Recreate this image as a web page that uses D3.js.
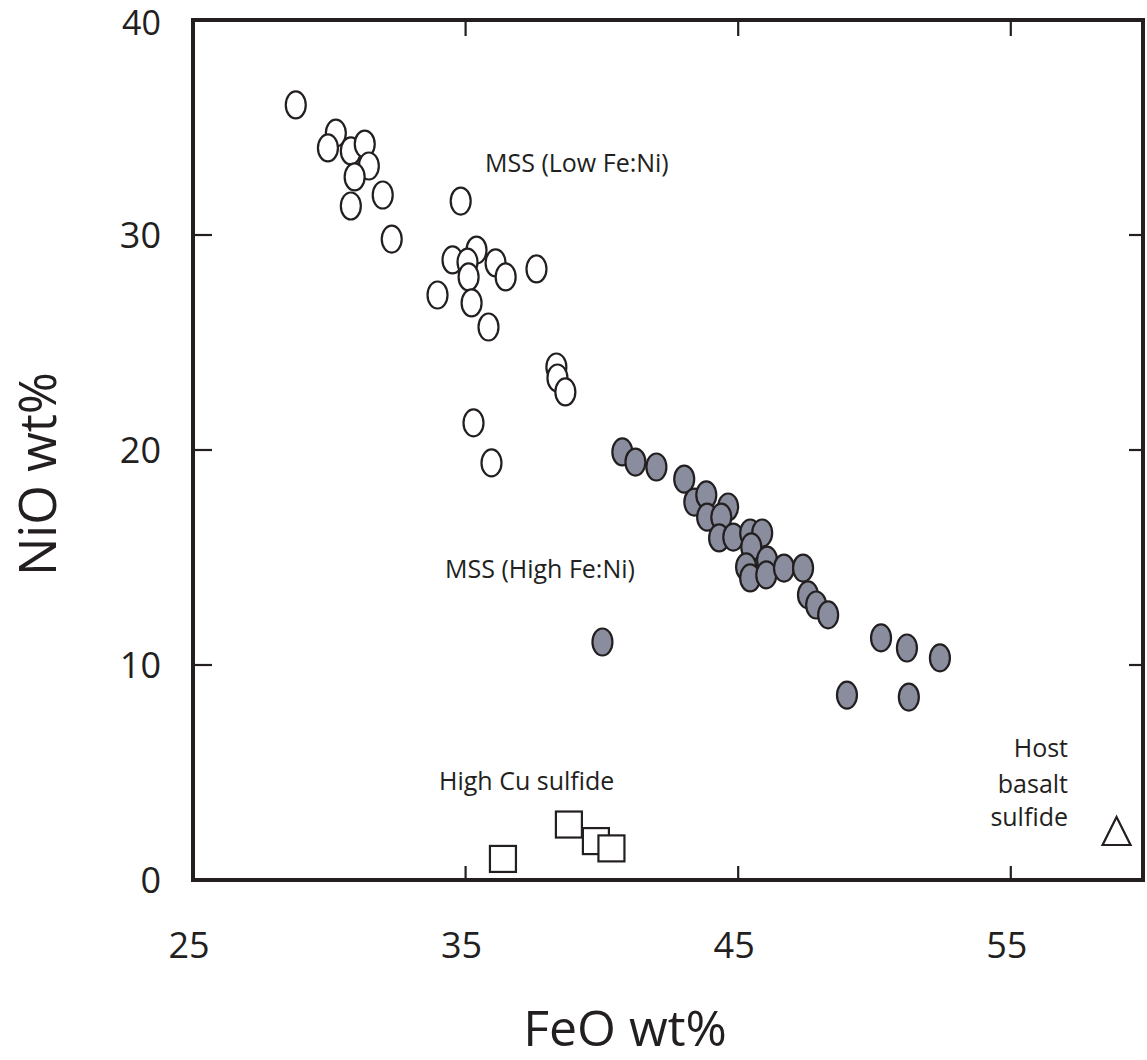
<!DOCTYPE html>
<html lang="en">
<head>
<meta charset="utf-8">
<title>NiO vs FeO</title>
<style>
  body { margin: 0; background: #fff; }
  text { font-family: "Open Sans", "Noto Sans", sans-serif; fill: #231f20; }
</style>
</head>
<body>
<svg width="1147" height="1060"></svg>
<script src="https://cdn.jsdelivr.net/npm/d3@7"></script>
<script>
// MSS (Low Fe:Ni) - open circles, [FeO, NiO]
const mssLow = [
  [28.77, 36.05], [30.24, 34.74], [29.95, 34.05], [30.79, 33.91], [31.30, 34.23],
  [31.45, 33.21], [30.93, 32.70], [30.79, 31.35], [31.96, 31.86], [32.29, 29.81],
  [34.82, 31.58], [34.52, 28.84], [35.40, 29.30], [35.07, 28.74], [35.11, 28.05],
  [36.10, 28.70], [36.47, 28.05], [37.60, 28.42], [33.97, 27.21], [35.22, 26.84],
  [35.84, 25.72], [38.33, 23.86], [38.37, 23.35], [38.66, 22.70], [35.29, 21.26],
  [35.95, 19.40]
];
// MSS (High Fe:Ni) - filled circles
const mssHigh = [
  [40.75, 19.91], [41.23, 19.44], [42.00, 19.21], [43.02, 18.65], [43.39, 17.58],
  [43.83, 17.91], [44.63, 17.35], [43.86, 16.88], [44.38, 16.88], [44.30, 15.91],
  [44.82, 15.95], [45.44, 16.14], [45.88, 16.14], [45.48, 15.49], [45.29, 14.56],
  [45.44, 14.05], [46.06, 14.88], [46.03, 14.19], [46.68, 14.51], [47.38, 14.51],
  [47.56, 13.26], [47.86, 12.79], [48.30, 12.33], [40.02, 11.07], [50.24, 11.26],
  [51.19, 10.79], [52.40, 10.33], [48.99, 8.60], [51.26, 8.51]
];
// High Cu sulfide - squares
const highCu = [[36.37, 0.98], [38.79, 2.58], [39.78, 1.81], [40.35, 1.47]];
// Host basalt sulfide - triangle
const hostBasalt = [[58.88, 2.28]];

const xTicks = [25, 35, 45, 55];
const yTicks = [0, 10, 20, 30, 40];

const svg = d3.select("svg");
const x = d3.scaleLinear().domain([25, 59.85]).range([193, 1143]);
const y = d3.scaleLinear().domain([0, 40]).range([880, 20]);

// inner ticks on all four sides
const g = svg.append("g").attr("stroke", "#231f20").attr("stroke-width", 2.2);
xTicks.filter(d => d > 25).forEach(d => {
  g.append("line").attr("x1", x(d)).attr("x2", x(d)).attr("y1", y(0)).attr("y2", y(0) - 14);
  g.append("line").attr("x1", x(d)).attr("x2", x(d)).attr("y1", y(40)).attr("y2", y(40) + 16);
});
yTicks.filter(d => d > 0 && d < 40).forEach(d => {
  g.append("line").attr("x1", x(25)).attr("x2", x(25) + 19).attr("y1", y(d)).attr("y2", y(d));
  g.append("line").attr("x1", x.range()[1]).attr("x2", x.range()[1] - 14).attr("y1", y(d)).attr("y2", y(d));
});

// frame
svg.append("rect")
  .attr("x", x.range()[0]).attr("y", y.range()[1])
  .attr("width", x.range()[1] - x.range()[0])
  .attr("height", y.range()[0] - y.range()[1])
  .attr("fill", "none").attr("stroke", "#231f20").attr("stroke-width", 4);

// tick labels
svg.selectAll(".xl").data(xTicks).enter().append("text")
  .attr("x", d => x(d) - 4).attr("y", 958)
  .attr("text-anchor", "middle").style("font-size", "36px")
  .text(d => d);
svg.selectAll(".yl").data(yTicks).enter().append("text")
  .attr("x", 161).attr("y", d => y(d) + 13)
  .attr("dy", d => d === 40 ? 2 : 0)
  .attr("text-anchor", "end").style("font-size", d => d === 40 ? "34px" : "36px")
  .text(d => d);

// axis titles
svg.append("text").attr("x", 625).attr("y", 1046)
  .attr("text-anchor", "middle").style("font-size", "50px")
  .text("FeO wt%");
svg.append("text")
  .attr("transform", "translate(56,474) rotate(-90)")
  .attr("text-anchor", "middle").style("font-size", "51px")
  .text("NiO wt%");

// points
const pts = svg.append("g").attr("stroke", "#231f20").attr("stroke-width", 2.2);
pts.selectAll(".low").data(mssLow).enter().append("ellipse")
  .attr("cx", d => x(d[0])).attr("cy", d => y(d[1]))
  .attr("rx", 10).attr("ry", 13.5).attr("fill", "#fff");
pts.selectAll(".high").data(mssHigh).enter().append("ellipse")
  .attr("cx", d => x(d[0])).attr("cy", d => y(d[1]))
  .attr("rx", 10).attr("ry", 13.5).attr("fill", "#898d9d");
pts.selectAll(".cu").data(highCu).enter().append("rect")
  .attr("x", d => x(d[0]) - 13).attr("y", d => y(d[1]) - 13)
  .attr("width", 26).attr("height", 26).attr("fill", "#fff");
pts.selectAll(".host").data(hostBasalt).enter().append("path")
  .attr("transform", d => `translate(${x(d[0])},${y(d[1])})`)
  .attr("d", "M0,-14L14,14L-14,14Z").attr("fill", "#fff");

// annotations
const ann = svg.append("g").style("font-size", "25px");
ann.append("text").attr("x", 485).attr("y", 172).text("MSS (Low Fe:Ni)");
ann.append("text").attr("x", 445).attr("y", 578).text("MSS (High Fe:Ni)");
ann.append("text").attr("x", 439).attr("y", 790).text("High Cu sulfide");
["Host", "basalt", "sulfide"].forEach((t, i) => {
  ann.append("text").attr("x", 1068).attr("y", [757, 793, 826][i])
    .attr("text-anchor", "end").text(t);
});
</script>
</body>
</html>
